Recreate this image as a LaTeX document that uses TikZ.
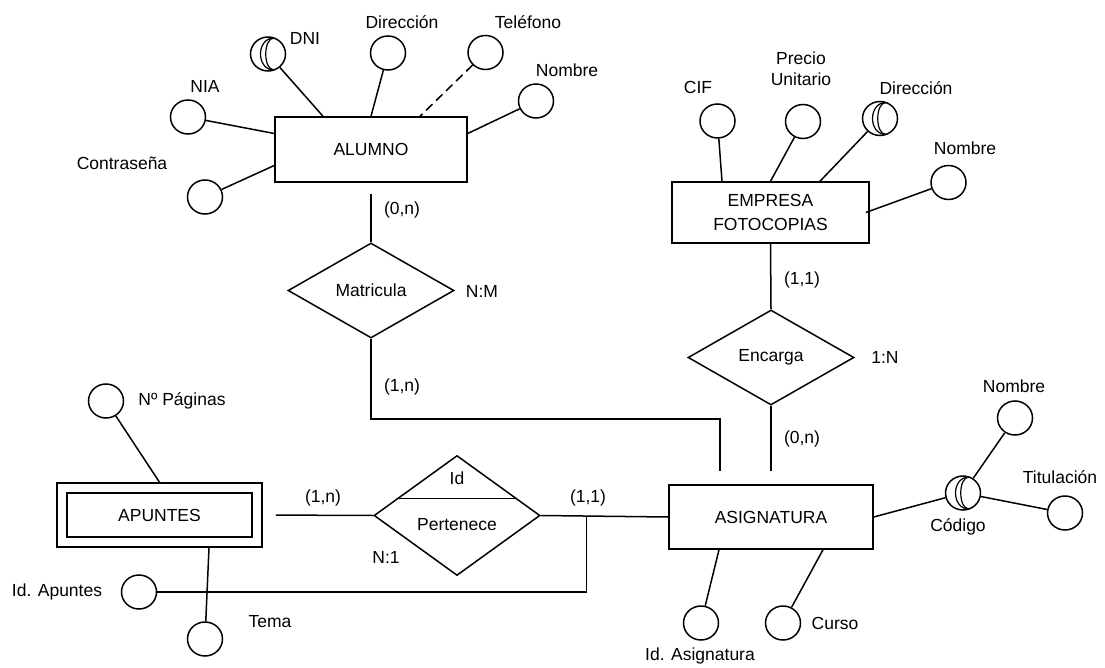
\documentclass[tikz,border=0pt]{standalone}
\usepackage{fontspec}
\setmainfont{Liberation Sans}
\usetikzlibrary{shapes.geometric,calc}

\begin{document}
\begin{tikzpicture}[x=1pt,y=-1pt,
every node/.style={font=\fontsize{17.5}{20}\selectfont},
conn/.style={line width=1.5pt},
entity/.style={draw,line width=1.5pt,rectangle,inner sep=0pt},
relation/.style={draw,line width=1.5pt,diamond,inner sep=0pt,minimum width=166pt,minimum height=95pt},
attr/.style={draw,line width=1.5pt,ellipse,inner sep=0pt,minimum width=35pt,minimum height=34pt},
keyattr/.style={attr,path picture={
\draw[line width=1.2pt]([xshift=6pt,yshift=16pt]path picture bounding box.center) .. controls +(-11pt,0pt) and +(-11pt,0pt) .. ([xshift=6pt,yshift=-16pt]path picture bounding box.center);
\draw[line width=1.2pt]([xshift=6pt,yshift=16pt]path picture bounding box.center) .. controls +(-18pt,0pt) and +(-18pt,0pt) .. ([xshift=6pt,yshift=-16pt]path picture bounding box.center);
}}]
\path[fill=white] (0,0) rectangle (1105,668);
\useasboundingbox (0,0) rectangle (1105,668);
%entities
\node[entity,minimum width=192pt,minimum height=65pt] (alumno) at (371,149.5) {ALUMNO};
\node[entity,minimum width=197pt,minimum height=61pt,align=center,font=\fontsize{17.5}{24}\selectfont] (empresa) at (770.5,212.5) {EMPRESA\\FOTOCOPIAS};
\node[entity,minimum width=204pt,minimum height=64pt] (asignatura) at (771,517) {ASIGNATURA};
\node[entity,double,double distance=8.5pt,outer sep=5.75pt,minimum width=195pt,minimum height=54pt] (apuntes) at (159.5,515) {APUNTES};
%relations
\node[relation] (matricula) at (371,290.5) {Matricula};
\node[relation] (encarga) at (771,357.5) {Encarga};
\node[relation,minimum height=120pt] (pertenece) at (457,515.5) {};
\node (perid) at (457,478) {Id};
\node (pertxt) at (457,525) {Pertenece};
\draw[conn] ($(pertenece.north)!0.72!(pertenece.west)$)--($(pertenece.north)!0.72!(pertenece.east)$);
%attributes ALUMNO
\node[attr] (nia) at (188,117) {};
\node[attr] (contrasena) at (205,197) {};
\node[keyattr] (dni) at (268,54) {};
\node[attr] (direccion) at (388,53) {};
\node[attr] (telefono) at (485.5,52.5) {};
\node[attr] (nombrealu) at (536,101) {};
\node (lnia) at (205,86) {NIA};
\node (lcontrasena) at (122,163) {Contraseña};
\node (ldni) at (305,38) {DNI};
\node (ldireccion) at (402,22) {Dirección};
\node (ltelefono) at (528,22) {Teléfono};
\node (lnombrealu) at (567,70) {Nombre};
%attributes EMPRESA
\node[attr] (cif) at (717.5,121) {};
\node[attr] (precio) at (803,121.5) {};
\node[keyattr] (direccionemp) at (880,118.5) {};
\node[attr] (nombreemp) at (948.5,182.5) {};
\node (lcif) at (698,87) {CIF};
\node[align=center,font=\fontsize{17.5}{21}\selectfont] (lprecio) at (801,69) {Precio\\Unitario};
\node (ldireccionemp) at (916,88) {Dirección};
\node (lnombreemp) at (965,148) {Nombre};
%attributes ASIGNATURA
\node[attr] (idasig) at (701,623) {};
\node[attr] (curso) at (783,623) {};
\node[keyattr] (codigo) at (963,493) {};
\node[attr] (nombreasig) at (1015,418) {};
\node[attr] (titulacion) at (1065,513) {};
\node (lidasig) at (700,656) {Id. Asignatura};
\node (lcurso) at (835,623) {Curso};
\node (lcodigo) at (958,527) {Código};
\node (lnombreasig) at (1014,386) {Nombre};
\node (ltitulacion) at (1060,477) {Titulación};
%attributes APUNTES
\node[attr] (npaginas) at (106,401) {};
\node[attr] (idapuntes) at (139,592) {};
\node[attr] (tema) at (205,639) {};
\node (lnpaginas) at (182,401) {Nº Páginas};
\node (lidapuntes) at (57,592) {Id. Apuntes};
\node (ltema) at (270,622) {Tema};
%cardinalities
\node (c1) at (402,210) {(0,n)};
\node (c2) at (402,387) {(1,n)};
\node (c3) at (802,280) {(1,1)};
\node (c4) at (802,439) {(0,n)};
\node (c5) at (323,498) {(1,n)};
\node (c6) at (588,498) {(1,1)};
\node (t1) at (482,291) {N:M};
\node (t2) at (885,357) {1:N};
\node (t3) at (386,557) {N:1};
%connectors
\draw[conn] (nia)--([yshift=16pt]alumno.west);
\draw[conn] (contrasena)--([yshift=-16pt]alumno.west);
\draw[conn] (dni)--([xshift=-48pt]alumno.north);
\draw[conn] (direccion)--(alumno.north);
\draw[conn,dash pattern=on 9pt off 5pt] (telefono)--([xshift=49pt]alumno.north);
\draw[conn] (nombrealu)--([yshift=16pt]alumno.east);
\draw[conn] (cif)--([xshift=-48.5pt]empresa.north);
\draw[conn] (precio)--(empresa.north);
\draw[conn] (direccionemp)--([xshift=49.5pt]empresa.north);
\draw[conn] (nombreemp)--([xshift=-4pt]empresa.east);
\draw[conn] (idasig)--([xshift=-52pt]asignatura.south);
\draw[conn] (curso)--([xshift=52pt]asignatura.south);
\draw[conn] (codigo)--(asignatura.east);
\draw[conn] (codigo)--(nombreasig);
\draw[conn] (codigo)--(titulacion);
\draw[conn] (npaginas)--(apuntes.north);
\draw[conn] (tema)--([xshift=49.5pt]apuntes.south);
\draw[conn,shorten <=11pt] (alumno.south)--(matricula.north);
\draw[conn] (matricula.south)--++(0,80)-|([xshift=-51pt,yshift=13pt]asignatura.north);
\draw[conn] (empresa.south)--(encarga.north);
\draw[conn,shorten >=13pt] (encarga.south)--(asignatura.north);
\draw[conn,shorten <=13pt] (apuntes.east)--(pertenece.west);
\draw[conn] (pertenece.east)--(asignatura.west);
\coordinate (idjoin) at ($(pertenece.east)!0.36!(asignatura.west)$);
\draw[conn] (idapuntes)-|(idjoin);
\end{tikzpicture}
\end{document}
